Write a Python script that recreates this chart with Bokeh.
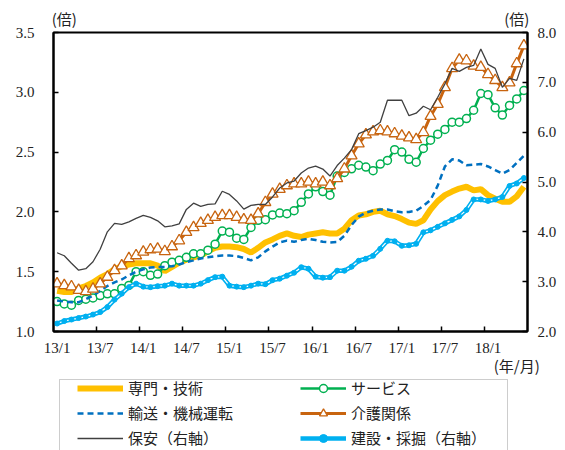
from bokeh.plotting import figure
from bokeh.layouts import column
from bokeh.models import (Range1d, LinearAxis, FixedTicker, Legend, LegendItem,
                          BoxAnnotation, PrintfTickFormatter)
from bokeh.embed import file_html
from bokeh.resources import INLINE

# 2013/1 .. 2018/6 (monthly)
tick_labels = ["13/1", "13/7", "14/1", "14/7", "15/1", "15/7",
               "16/1", "16/7", "17/1", "17/7", "18/1"]

senmon = [1.34, 1.33, 1.33, 1.36, 1.38, 1.41, 1.45, 1.48, 1.52, 1.545,
          1.56, 1.57, 1.57, 1.57, 1.55, 1.505, 1.54, 1.575, 1.60, 1.62,
          1.635, 1.67, 1.70, 1.71, 1.71, 1.705, 1.69, 1.66, 1.70, 1.745,
          1.77, 1.80, 1.82, 1.80, 1.79, 1.81, 1.82, 1.83, 1.82, 1.82,
          1.86, 1.93, 1.97, 1.98, 2.00, 2.01, 1.98, 1.965, 1.94, 1.91,
          1.90, 1.93, 2.02, 2.09, 2.14, 2.17, 2.195, 2.21, 2.18, 2.19,
          2.14, 2.11, 2.085, 2.085, 2.13, 2.21]

service = [1.25, 1.23, 1.22, 1.26, 1.27, 1.28, 1.30, 1.315, 1.315, 1.36,
           1.385, 1.50, 1.50, 1.47, 1.48, 1.55, 1.58, 1.595, 1.62, 1.65,
           1.65, 1.68, 1.73, 1.84, 1.83, 1.78, 1.77, 1.87, 1.93, 1.935,
           1.975, 1.99, 1.985, 2.01, 2.08, 2.15, 2.21, 2.17, 2.14, 2.30,
           2.33, 2.36, 2.39, 2.375, 2.345, 2.40, 2.43, 2.52, 2.50, 2.44,
           2.415, 2.53, 2.60, 2.65, 2.69, 2.75, 2.75, 2.78, 2.85, 2.99,
           2.98, 2.87, 2.81, 2.89, 2.945, 3.015]

yuso = [1.26, 1.25, 1.245, 1.245, 1.27, 1.30, 1.34, 1.38, 1.41, 1.435,
        1.47, 1.50, 1.52, 1.535, 1.54, 1.54, 1.545, 1.56, 1.58, 1.595,
        1.61, 1.62, 1.63, 1.635, 1.635, 1.63, 1.615, 1.595, 1.62, 1.67,
        1.71, 1.745, 1.76, 1.75, 1.765, 1.775, 1.765, 1.75, 1.745, 1.748,
        1.80, 1.89, 1.96, 1.995, 2.01, 2.02, 2.02, 2.005, 1.997, 2.00,
        2.01, 2.05, 2.10, 2.22, 2.38, 2.44, 2.43, 2.39, 2.395, 2.40,
        2.38, 2.35, 2.32, 2.35, 2.41, 2.47]

kaigo = [1.40, 1.385, 1.375, 1.345, 1.335, 1.355, 1.40, 1.455, 1.51, 1.55,
         1.61, 1.635, 1.665, 1.685, 1.69, 1.67, 1.71, 1.76, 1.83, 1.87,
         1.905, 1.93, 1.955, 1.97, 1.97, 1.955, 1.935, 1.93, 1.985, 2.08,
         2.15, 2.19, 2.22, 2.235, 2.235, 2.25, 2.235, 2.25, 2.22, 2.28,
         2.36, 2.47, 2.57, 2.645, 2.67, 2.68, 2.67, 2.655, 2.635, 2.62,
         2.605, 2.665, 2.80, 2.90, 3.04, 3.20, 3.27, 3.265, 3.22, 3.21,
         3.15, 3.10, 3.04, 3.08, 3.24, 3.39]

hoan = [3.58, 3.52, 3.37, 3.23, 3.26, 3.40, 3.65, 4.00, 4.17, 4.15,
        4.20, 4.27, 4.33, 4.29, 4.22, 4.10, 4.12, 4.16, 4.45, 4.575,
        4.51, 4.55, 4.56, 4.815, 4.75, 4.62, 4.455, 4.53, 4.55, 4.55,
        4.70, 4.88, 4.98, 5.02, 5.18, 5.28, 5.32, 5.26, 5.12, 5.33,
        5.48, 5.65, 5.97, 6.03, 6.10, 6.20, 6.64, 6.64, 6.64, 6.33,
        6.38, 6.52, 6.45, 6.70, 6.97, 7.28, 7.22, 7.30, 7.34, 7.67,
        7.36, 7.28, 6.90, 7.08, 7.04, 7.47]

kensetsu = [2.16, 2.21, 2.24, 2.27, 2.30, 2.34, 2.39, 2.49, 2.64, 2.76,
            2.89, 2.96, 2.90, 2.89, 2.91, 2.92, 2.96, 2.92, 2.92, 2.92,
            2.96, 3.03, 3.09, 3.10, 2.92, 2.90, 2.89, 2.92, 2.96, 2.95,
            3.03, 3.06, 3.12, 3.18, 3.29, 3.26, 3.10, 3.08, 3.09, 3.22,
            3.22, 3.30, 3.42, 3.46, 3.52, 3.66, 3.82, 3.81, 3.72, 3.73,
            3.76, 3.99, 4.03, 4.10, 4.17, 4.24, 4.31, 4.44, 4.65, 4.65,
            4.62, 4.65, 4.70, 4.92, 4.97, 5.08]

names = ["専門・技術", "サービス", "輸送・機械運転", "介護関係",
         "保安（右軸）", "建設・採掘（右軸）"]

x = list(range(len(senmon)))
NAN = float("nan")

W = 565
MAIN_H, BOT_H = 378, 72
FL, FR = 53, 527          # frame left / right (px)
FB = 331                  # frame bottom (px)

YELLOW = "#FFC000"
GREEN = "#00B050"
BLUE = "#0070C0"
ORANGE = "#C8640F"
GRAY = "#404040"
LBLUE = "#00B0F0"
TXT = "#222222"
CJK = "Noto Sans CJK JP"

# ---------- main chart ----------
p = figure(width=W, height=MAIN_H, output_backend="svg", toolbar_location=None,
           x_range=Range1d(-0.5, len(x) - 0.5), y_range=Range1d(1.0, 3.5),
           min_border_left=FL, min_border_right=W - FR, min_border_top=32,
           min_border_bottom=MAIN_H - FB, background_fill_color="white",
           border_fill_color="white")
p.extra_y_ranges = {"right": Range1d(2.0, 8.0)}
p.xgrid.visible = False
p.ygrid.visible = False
p.outline_line_color = "black"
p.outline_line_width = 2

major_x = [i * 6 for i in range(len(tick_labels))]
minor_x = [t - 0.5 for t in major_x[1:]]
p.xaxis.ticker = FixedTicker(ticks=major_x, minor_ticks=minor_x)
p.xaxis.major_label_overrides = {t: lab for t, lab in zip(major_x, tick_labels)}
p.yaxis.ticker = FixedTicker(ticks=[1.0, 1.5, 2.0, 2.5, 3.0, 3.5])
p.yaxis.formatter = PrintfTickFormatter(format="%.1f")

right_axis = LinearAxis(y_range_name="right",
                        ticker=FixedTicker(ticks=[2, 3, 4, 5, 6, 7, 8]),
                        formatter=PrintfTickFormatter(format="%.1f"))
p.add_layout(right_axis, "right")

for ax in [p.xaxis[0], p.yaxis[0], right_axis]:
    ax.axis_line_color = "black"
    ax.axis_line_width = 2
    ax.major_tick_line_color = "black"
    ax.major_tick_line_width = 1.5
    ax.major_tick_in = 5
    ax.major_tick_out = 0
    ax.minor_tick_line_color = None
    ax.major_label_text_font = "Liberation Serif"
    ax.major_label_text_font_size = "15px"
    ax.major_label_text_color = TXT

p.xaxis.major_tick_in = 0
p.xaxis.minor_tick_line_color = "black"
p.xaxis.minor_tick_line_width = 1.5
p.xaxis.minor_tick_in = 5
p.xaxis.minor_tick_out = 0
p.xaxis.major_label_standoff = 8
p.yaxis.major_label_standoff = 19
right_axis.major_label_standoff = 10


def unit_axis(ticks, labels, standoff):
    ax = LinearAxis(ticker=FixedTicker(ticks=ticks, minor_ticks=[]),
                    major_label_overrides=dict(zip(ticks, labels)))
    ax.axis_line_color = None
    ax.major_tick_line_color = None
    ax.minor_tick_line_color = None
    ax.major_tick_in = 0
    ax.major_tick_out = 0
    ax.major_label_standoff = standoff
    ax.major_label_text_font = CJK
    ax.major_label_text_font_size = "15px"
    ax.major_label_text_color = TXT
    return ax


# unit labels "(倍)" above both value axes, "(年/月)" under the month axis
p.add_layout(unit_axis([1, 64], ["(倍)", "(倍)"], 4), "above")
p.add_layout(unit_axis([64], ["(年/月)"], -4), "below")

p.line(x, senmon, line_color=YELLOW, line_width=6)
p.line(x, service, line_color=GREEN, line_width=2.5)
p.scatter(x, service, marker="circle", size=8, fill_color="white",
          line_color=GREEN, line_width=1.5)
p.line(x, yuso, line_color=BLUE, line_width=2.5, line_dash="6 4")
p.line(x, kaigo, line_color=ORANGE, line_width=3)
p.scatter(x, kaigo, marker="triangle", size=11, fill_color="white",
          line_color=ORANGE, line_width=1.3)
p.line(x, hoan, y_range_name="right", line_color=GRAY, line_width=1.3)
p.line(x, kensetsu, y_range_name="right", line_color=LBLUE, line_width=4.5)
p.line(x, kensetsu, y_range_name="right", line_color="white", line_width=1.2)
p.scatter(x, kensetsu, y_range_name="right", marker="circle", size=5,
          fill_color=LBLUE, line_color=LBLUE)

# ---------- bottom strip: legend ----------
bot = figure(width=W, height=BOT_H, output_backend="svg", toolbar_location=None,
             x_range=Range1d(FL, FR), y_range=Range1d(0, BOT_H),
             x_axis_type=None, y_axis_type=None,
             min_border=0, min_border_left=FL, min_border_right=W - FR,
             min_border_top=0, min_border_bottom=0,
             outline_line_color=None, background_fill_color="white",
             border_fill_color="white")
bot.add_layout(BoxAnnotation(left=59, right=507, top=BOT_H - 1, bottom=-20,
                             fill_alpha=0, line_color="#595959", line_width=1))

nx, ny = [NAN], [NAN]
g_senmon = bot.line(nx, ny, line_color=YELLOW, line_width=6)
g_serv_l = bot.line(nx, ny, line_color=GREEN, line_width=2.5)
g_serv_m = bot.scatter(nx, ny, marker="circle", size=8, fill_color="white",
                       line_color=GREEN, line_width=1.5)
g_yuso = bot.line(nx, ny, line_color=BLUE, line_width=2.5, line_dash="6 4")
g_kaigo_l = bot.line(nx, ny, line_color=ORANGE, line_width=3)
g_kaigo_m = bot.scatter(nx, ny, marker="triangle", size=11, fill_color="white",
                        line_color=ORANGE, line_width=1.3)
g_hoan = bot.line(nx, ny, line_color=GRAY, line_width=1.3)
g_ken_l = bot.line(nx, ny, line_color=LBLUE, line_width=4.5)
g_ken_m = bot.scatter(nx, ny, marker="circle", size=5, fill_color=LBLUE,
                      line_color=LBLUE)

common = dict(padding=0, margin=0, spacing=4, glyph_width=46, glyph_height=20,
              label_height=20, label_standoff=5,
              label_text_font=CJK, label_text_font_size="15px",
              label_text_color=TXT, border_line_color=None,
              background_fill_alpha=0)

legA = Legend(items=[LegendItem(label=names[0], renderers=[g_senmon]),
                     LegendItem(label=names[2], renderers=[g_yuso]),
                     LegendItem(label=names[4], renderers=[g_hoan])],
              location=(77 - FL, 2), **common)
legB = Legend(items=[LegendItem(label=names[1], renderers=[g_serv_l, g_serv_m]),
                     LegendItem(label=names[3], renderers=[g_kaigo_l, g_kaigo_m]),
                     LegendItem(label=names[5], renderers=[g_ken_l, g_ken_m])],
              location=(300 - FL, 2), **common)
bot.add_layout(legA)
bot.add_layout(legB)

layout = column(p, bot, spacing=0)
open("out.html", "w").write(file_html(layout, INLINE))
